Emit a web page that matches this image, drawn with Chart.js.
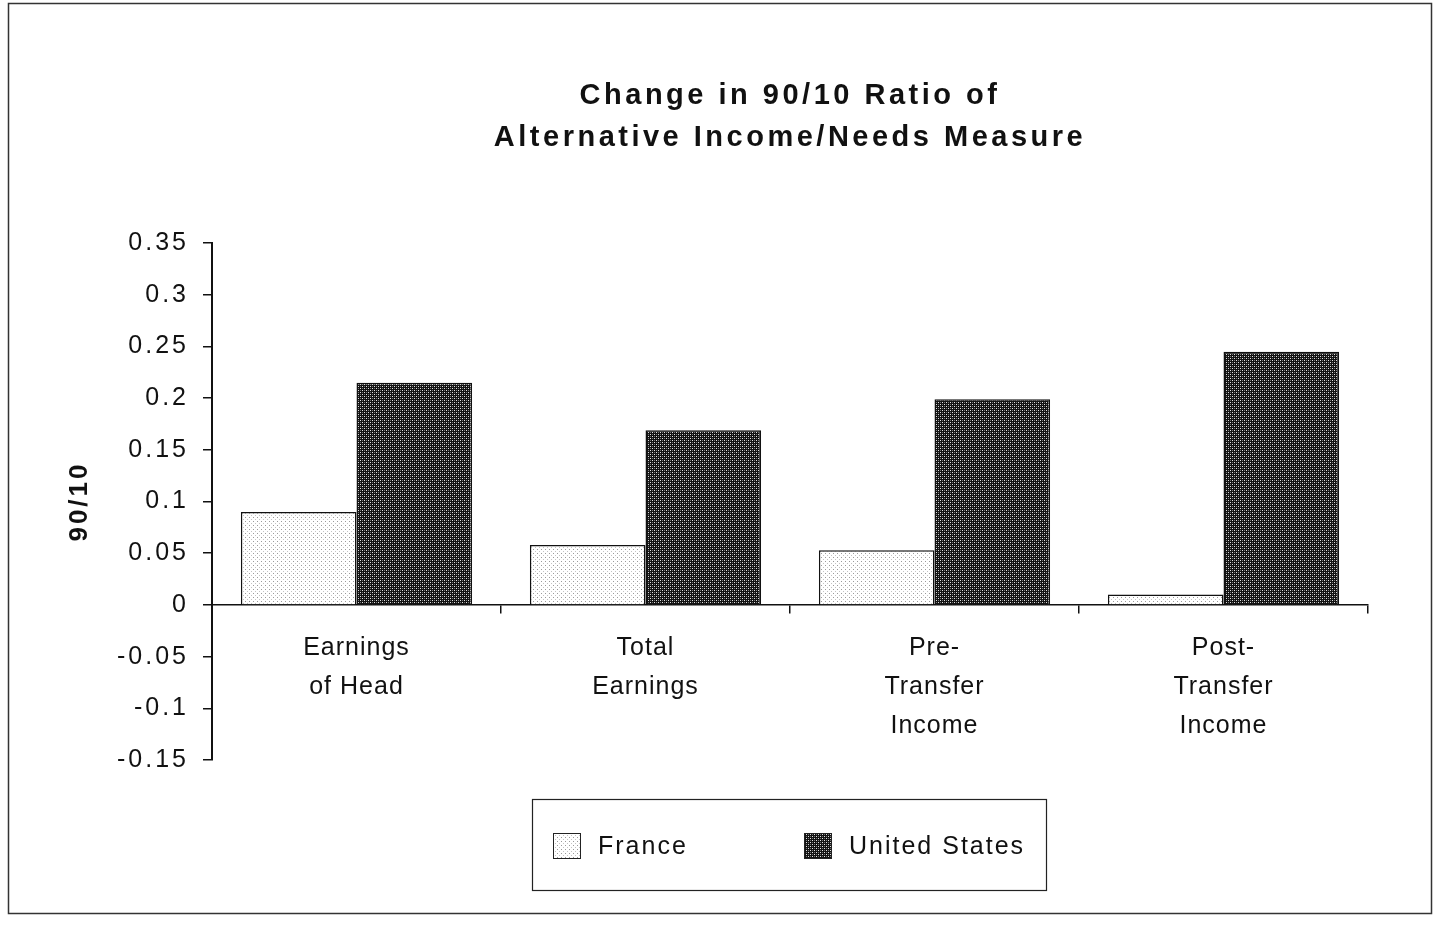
<!DOCTYPE html>
<html>
<head>
<meta charset="utf-8">
<title>Change in 90/10 Ratio</title>
<script src="https://cdn.jsdelivr.net/npm/chart.js"></script>
<style>
  html, body { margin: 0; padding: 0; background: #fff; }
</style>
</head>
<body>
<canvas id="myChart" width="1437" height="929"></canvas>
<script>
// data
var categories = [
  ["Earnings", "of Head"],
  ["Total", "Earnings"],
  ["Pre-", "Transfer", "Income"],
  ["Post-", "Transfer", "Income"]
];
var seriesNames = ["France", "United States"];
var franceValues = [0.09, 0.058, 0.053, 0.01];
var usValues = [0.215, 0.169, 0.199, 0.245];
var titleLines = ["Change in 90/10 Ratio of", "Alternative Income/Needs Measure"];
var yAxisLabel = "90/10";
var yMin = -0.15;
var yMax = 0.35;
var yStep = 0.05;

var FONT = "'Liberation Sans', Arial, Helvetica, sans-serif";

// little dot textures like the old printer shading
function makePattern(size, bg, dots) {
  var c = document.createElement("canvas");
  c.width = size;
  c.height = size;
  var g = c.getContext("2d");
  g.fillStyle = bg;
  g.fillRect(0, 0, size, size);
  dots.forEach(function (d) {
    g.fillStyle = d[2];
    g.fillRect(d[0], d[1], 1, 1);
  });
  return g.createPattern(c, "repeat");
}

var lightFill = makePattern(4, "#ffffff", [[1, 1, "#9a9a9a"], [3, 3, "#c4c4c4"]]);
var darkFill = makePattern(4, "#121212", [[0, 0, "#e0e0e0"], [2, 2, "#e0e0e0"], [2, 0, "#777"], [0, 2, "#777"]]);
var fills = [lightFill, darkFill];

// letter spacing for the typewriter look of the scan
function withSpacing(obj, name, px) {
  if (!obj || obj["_sp_" + name]) return;
  var orig = obj[name];
  obj[name] = function () {
    var ctx = this.ctx;
    var old = ctx.letterSpacing;
    ctx.letterSpacing = px;
    orig.apply(this, arguments);
    ctx.letterSpacing = old;
  };
  obj["_sp_" + name] = true;
}

var framePlugin = {
  id: "frame",
  beforeDraw: function (chart) {
    withSpacing(chart.titleBlock, "draw", "3.5px");
    withSpacing(chart.scales.y, "drawLabels", "3px");
    withSpacing(chart.scales.y, "drawTitle", "3px");
    withSpacing(chart.scales.x, "drawLabels", "1px");

    var ctx = chart.ctx;
    ctx.save();
    ctx.fillStyle = "#ffffff";
    ctx.fillRect(0, 0, chart.width, chart.height);
    ctx.strokeStyle = "#333";
    ctx.lineWidth = 1.5;
    ctx.strokeRect(8.5, 3.5, 1423, 910);
    ctx.restore();
  }
};

var legendPlugin = {
  id: "boxLegend",
  afterDraw: function (chart) {
    var ctx = chart.ctx;
    var xs = [553, 804];
    ctx.save();
    ctx.strokeStyle = "#222";
    ctx.lineWidth = 1.2;
    ctx.strokeRect(532.5, 799.5, 514, 91);
    ctx.font = "25px " + FONT;
    ctx.letterSpacing = "2px";
    ctx.textBaseline = "middle";
    chart.data.datasets.forEach(function (ds, i) {
      ctx.fillStyle = ds.backgroundColor;
      ctx.fillRect(xs[i], 833, 27, 25);
      ctx.strokeStyle = "#222";
      ctx.lineWidth = 1;
      ctx.strokeRect(xs[i] + 0.5, 833.5, 27, 25);
      ctx.fillStyle = "#111";
      ctx.fillText(ds.label, xs[i] + 45, 847);
    });
    ctx.restore();
  }
};

var ctx = document.getElementById("myChart").getContext("2d");
var chart = new Chart(ctx, {
  type: "bar",
  data: {
    labels: categories,
    datasets: [
      {
        label: seriesNames[0],
        data: franceValues,
        backgroundColor: fills[0],
        borderColor: "#111",
        borderWidth: 1.5,
        categoryPercentage: 0.8,
        barPercentage: 1.0
      },
      {
        label: seriesNames[1],
        data: usValues,
        backgroundColor: fills[1],
        borderColor: "#111",
        borderWidth: 1.5,
        categoryPercentage: 0.8,
        barPercentage: 1.0
      }
    ]
  },
  options: {
    responsive: false,
    devicePixelRatio: 1,
    animation: false,
    layout: {
      padding: { left: 0, right: 69, top: 0, bottom: 169 }
    },
    plugins: {
      legend: { display: false },
      tooltip: { enabled: false },
      title: {
        display: true,
        text: titleLines,
        fullSize: false,
        color: "#111",
        font: { family: FONT, size: 29, weight: "bold", lineHeight: 1.45 },
        padding: { top: 75, bottom: 84 }
      }
    },
    scales: {
      x: {
        type: "category",
        position: { y: 0 },
        offset: true,
        grid: {
          display: true,
          drawOnChartArea: false,
          drawTicks: true,
          offset: true,
          tickLength: 8,
          color: "#111",
          lineWidth: 1.5
        },
        border: { display: true, color: "#111", width: 1.5 },
        ticks: {
          color: "#111",
          padding: 16,
          maxRotation: 0,
          autoSkip: false,
          font: { family: FONT, size: 25, lineHeight: 1.55 }
        }
      },
      y: {
        min: yMin,
        max: yMax,
        afterFit: function (scale) {
          scale.width = 212;
        },
        grid: {
          drawOnChartArea: false,
          tickLength: 9,
          color: "#111",
          lineWidth: 1.5
        },
        border: { display: true, color: "#111", width: 2 },
        ticks: {
          stepSize: yStep,
          padding: 14,
          color: "#111",
          font: { family: FONT, size: 25 },
          callback: function (v) {
            return String(Math.round(v * 100) / 100);
          }
        },
        title: {
          display: true,
          text: yAxisLabel,
          color: "#111",
          font: { family: FONT, size: 26, weight: "bold" },
          padding: { top: 64, bottom: 0 }
        }
      }
    }
  },
  plugins: [framePlugin, legendPlugin]
});
</script>
</body>
</html>
